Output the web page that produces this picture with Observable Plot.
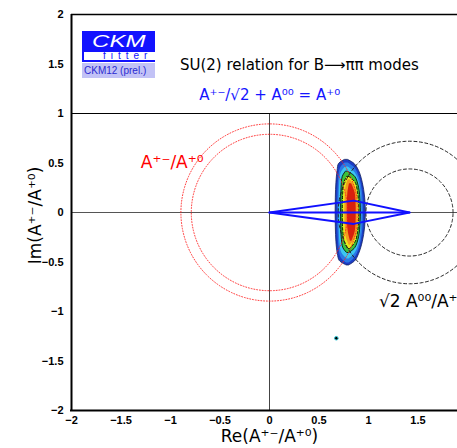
<!DOCTYPE html>
<html>
<head>
<meta charset="utf-8">
<script src="https://cdn.jsdelivr.net/npm/d3@7"></script>
<script src="https://cdn.jsdelivr.net/npm/@observablehq/plot@0.6"></script>
<style>
  html, body { margin: 0; padding: 0; background: white; }
  #wrap { position: relative; width: 457px; height: 448px; overflow: hidden; }
  .logo { position: absolute; font-family: "Liberation Sans", Arial, sans-serif; white-space: nowrap; }
</style>
</head>
<body>
<div id="wrap">
  <div class="logo" style="left:82px;top:31px;width:73px;height:21px;background:#1212ff;"></div>
  <div class="logo" style="left:92px;top:32px;height:19px;color:white;font-style:italic;font-size:17px;line-height:19px;transform:scaleX(1.42);transform-origin:0 50%;">CKM</div>
  <div class="logo" style="left:82px;top:52px;width:71px;height:8px;background:white;border-left:2px solid #1212ff;border-bottom:2px solid #1212ff;"></div>
  <div class="logo" style="left:103px;top:52px;height:8px;color:#1212ff;font-size:10px;letter-spacing:5px;line-height:8px;">fitter</div>
  <div class="logo" style="left:82px;top:63px;width:73px;height:15px;background:#c2c2f6;color:#2a2ad0;font-size:10px;line-height:15px;text-indent:2px;">CKM12 (prel.)</div>
</div>
<script>
// ---- data ----
const xTicks = [-2, -1.5, -1, -0.5, 0, 0.5, 1, 1.5];
const yTicks = [-2, -1.5, -1, -0.5, 0, 0.5, 1, 1.5, 2];

// |A+-/A+0| circles (red, centred at origin)
const redRadii = [0.79, 0.895];
// sqrt2 |A00/A+0| circles (black dashed, centred at sqrt2)
const dashCentre = 1.414;
const dashRadii = [0.44, 0.72];

// isospin triangles
const triX = [0, 0.85, 1.414, 0.85, 0];
const triY = [0, 0.12, 0, -0.115, 0];
const baseX = [0, 1.414];
const baseY = [0, 0];

// isolated point
const ptX = [0.675];
const ptY = [-1.27];

// confidence-level regions: y, left edge, right edge
const lvl1Y  = [0.53, 0.49, 0.42, 0.30, 0.15, 0, -0.15, -0.30, -0.42, -0.49, -0.535];
const lvl1X1 = [0.760, 0.702, 0.688, 0.676, 0.670, 0.668, 0.670, 0.676, 0.690, 0.710, 0.780];
const lvl1X2 = [0.795, 0.860, 0.905, 0.942, 0.966, 0.973, 0.966, 0.942, 0.905, 0.868, 0.805];

const lvl2Y  = [0.50, 0.45, 0.35, 0.2, 0, -0.2, -0.35, -0.46, -0.51];
const lvl2X1 = [0.762, 0.718, 0.700, 0.692, 0.690, 0.692, 0.702, 0.724, 0.778];
const lvl2X2 = [0.795, 0.862, 0.910, 0.940, 0.948, 0.940, 0.910, 0.862, 0.805];

const lvl3Y  = [0.46, 0.40, 0.30, 0.15, 0, -0.15, -0.30, -0.41, -0.47];
const lvl3X1 = [0.768, 0.724, 0.709, 0.704, 0.702, 0.704, 0.711, 0.731, 0.783];
const lvl3X2 = [0.795, 0.866, 0.908, 0.927, 0.933, 0.927, 0.908, 0.866, 0.805];

const lvl4Y  = [0.41, 0.36, 0.25, 0.1, 0, -0.1, -0.25, -0.36, -0.41];
const lvl4X1 = [0.770, 0.740, 0.728, 0.724, 0.723, 0.724, 0.729, 0.746, 0.785];
const lvl4X2 = [0.795, 0.866, 0.905, 0.920, 0.923, 0.920, 0.905, 0.866, 0.805];

const lvl5Y  = [0.36, 0.30, 0.20, 0.1, 0, -0.1, -0.2, -0.30, -0.37];
const lvl5X1 = [0.785, 0.756, 0.745, 0.741, 0.740, 0.741, 0.746, 0.761, 0.795];
const lvl5X2 = [0.805, 0.870, 0.894, 0.904, 0.907, 0.904, 0.894, 0.870, 0.812];

const lvl6Y  = [0.33, 0.25, 0.12, 0, -0.12, -0.25, -0.33];
const lvl6X1 = [0.795, 0.771, 0.763, 0.761, 0.764, 0.775, 0.805];
const lvl6X2 = [0.815, 0.872, 0.889, 0.893, 0.889, 0.872, 0.818];

const lvl7Y  = [0.29, 0.20, 0.10, 0, -0.10, -0.20, -0.29];
const lvl7X1 = [0.808, 0.792, 0.786, 0.785, 0.787, 0.796, 0.818];
const lvl7X2 = [0.830, 0.865, 0.874, 0.876, 0.874, 0.865, 0.833];

const lvlColors = ["#1c3cc4", "#2a78e6", "#3cc6f0", "#3cc23c", "#e8ea1c", "#f39a1e", "#d8200e"];

// texts
const titleText = "SU(2) relation for B\u27F6\u03C0\u03C0 modes";
const relText = "A\u207A\u207B/\u221A2 + A\u2070\u2070 = A\u207A\u2070";
const redLabel = "A\u207A\u207B/A\u207A\u2070";
const dashLabel = "\u221A2 A\u2070\u2070/A\u207A\u2070";
const xTitle = "Re(A\u207A\u207B/A\u207A\u2070)";
const yTitle = "Im(A\u207A\u207B/A\u207A\u2070)";

// ---- build ----
function circle(cx, cy, r) {
  return d3.range(0, 361, 1.5).map(a => ({x: cx + r * Math.cos(a * Math.PI / 180), y: cy + r * Math.sin(a * Math.PI / 180)}));
}
function level(ys, x1s, x2s) {
  return ys.map((y, i) => ({y, x1: x1s[i], x2: x2s[i]}));
}
const levels = [
  level(lvl1Y, lvl1X1, lvl1X2), level(lvl2Y, lvl2X1, lvl2X2), level(lvl3Y, lvl3X1, lvl3X2),
  level(lvl4Y, lvl4X1, lvl4X2), level(lvl5Y, lvl5X1, lvl5X2), level(lvl6Y, lvl6X1, lvl6X2),
  level(lvl7Y, lvl7X1, lvl7X2)
];
const tri = triX.map((x, i) => ({x, y: triY[i]}));
const base = baseX.map((x, i) => ({x, y: baseY[i]}));
const pts = ptX.map((x, i) => ({x, y: ptY[i]}));
const fmt = d => String(d).replace("-", "\u2212");

const dj = "DejaVu Sans";
const marks = [
  // guide lines
  Plot.ruleY([0], {x1: -2, x2: 2, stroke: "#555", strokeWidth: 1}),
  Plot.ruleX([0], {y1: -2, y2: 1, stroke: "#444", strokeWidth: 1}),
  // CL regions
  ...levels.map((d, i) => Plot.areaX(d, {y: "y", x1: "x1", x2: "x2", curve: "catmull-rom", fill: lvlColors[i],
      stroke: i === 0 ? "#102060" : i === 3 ? "#000" : "none", strokeWidth: 0.8})),
  Plot.areaX(levels[4], {y: "y", x1: "x1", x2: "x2", curve: "catmull-rom", fill: "none", stroke: "#000", strokeWidth: 0.9, strokeDasharray: "2.5 2"}),
  // circles
  ...redRadii.map(r => Plot.line(circle(0, 0, r), {x: "x", y: "y", stroke: "#ff2020", strokeWidth: 1, strokeDasharray: "1 1.8", strokeOpacity: 0.85})),
  ...dashRadii.map(r => Plot.line(circle(dashCentre, 0, r), {x: "x", y: "y", stroke: "#222", strokeWidth: 1, strokeDasharray: "3 2.5"})),
  // triangles
  Plot.line(tri, {x: "x", y: "y", stroke: "#1010ff", strokeWidth: 2}),
  Plot.line(base, {x: "x", y: "y", stroke: "#1010ff", strokeWidth: 2.2}),
  Plot.dot(pts, {x: "x", y: "y", r: 1.8, fill: "#000", stroke: "#30c8d8", strokeWidth: 1}),
  // frame
  Plot.ruleY([1], {x1: -2, x2: 2, stroke: "#000", strokeWidth: 1.2}),
  Plot.ruleY([2], {x1: -2, x2: 2, stroke: "#000", strokeWidth: 1.3}),
  Plot.ruleY([-2], {x1: -2.01, x2: 2, stroke: "#000", strokeWidth: 2}),
  Plot.ruleX([-2], {y1: -2, y2: 2, stroke: "#000", strokeWidth: 2}),
  // axes
  Plot.axisX({ticks: xTicks, tickFormat: fmt, tickSize: 0, tickPadding: 6, fontWeight: "bold", fontSize: 11, label: null}),
  Plot.axisY({ticks: yTicks, tickFormat: fmt, tickSize: 0, tickPadding: 8, fontWeight: "bold", fontSize: 11, label: null}),
  // texts
  Plot.text([titleText], {x: -0.905, y: 1.49, text: d => d, textAnchor: "start", fontFamily: dj, fontSize: 15, fill: "#000"}),
  Plot.text([relText], {x: -0.71, y: 1.18, text: d => d, textAnchor: "start", fontFamily: dj, fontSize: 15, fill: "#1414ff"}),
  Plot.text([redLabel], {x: -1.30, y: 0.50, text: d => d, textAnchor: "start", fontFamily: dj, fontSize: 17, fill: "#ff0000"}),
  Plot.text([dashLabel], {x: 1.105, y: -0.895, text: d => d, textAnchor: "start", fontFamily: dj, fontSize: 17, fill: "#000"}),
  Plot.text([xTitle], {x: 0, y: -2.263, text: d => d, fontFamily: dj, fontSize: 17, fill: "#000"}),
  Plot.text([yTitle], {x: -2.364, y: -0.03, text: d => d, rotate: -90, fontFamily: dj, fontSize: 17, fill: "#000"})
];

const chart = Plot.plot({
  width: 457,
  height: 448,
  marginLeft: 71,
  marginRight: 0,
  marginTop: 14,
  marginBottom: 38,
  x: {domain: [-2, 2], range: [71, 467]},
  y: {domain: [-2, 2], range: [410, 14]},
  style: {fontFamily: "'Liberation Sans', Arial, sans-serif", background: "white", color: "#000"},
  marks
});
document.getElementById("wrap").prepend(chart);
</script>
</body>
</html>
